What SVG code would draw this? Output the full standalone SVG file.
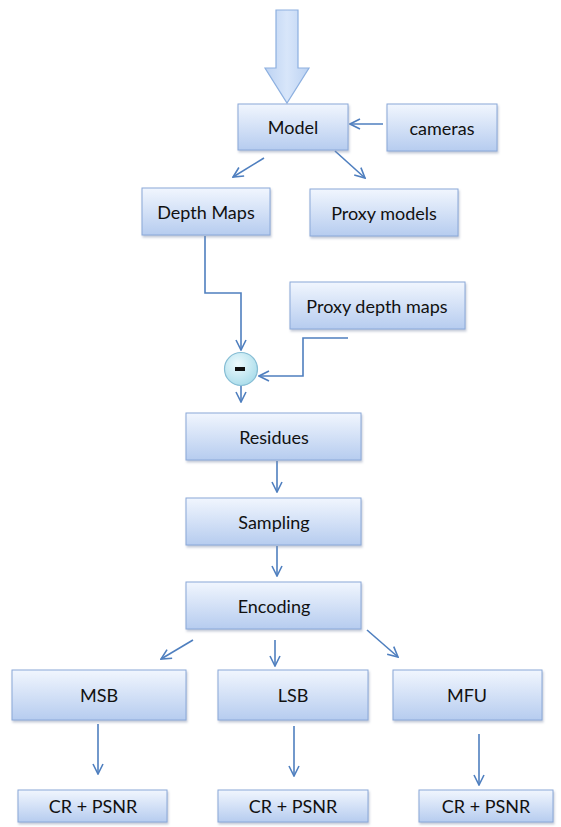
<svg xmlns="http://www.w3.org/2000/svg" width="561" height="827" viewBox="0 0 561 827">
  <defs>
    <linearGradient id="boxFill" x1="0" y1="0" x2="0" y2="1">
      <stop offset="0" stop-color="#f1f6fe"/>
      <stop offset="1" stop-color="#b6ccef"/>
    </linearGradient>
    <linearGradient id="bigArrowFill" x1="0" y1="0" x2="1" y2="0">
      <stop offset="0" stop-color="#bcd2f2"/>
      <stop offset="0.5" stop-color="#d8e6fa"/>
      <stop offset="1" stop-color="#bcd2f2"/>
    </linearGradient>
    <radialGradient id="circleFill" cx="0.4" cy="0.35" r="0.7">
      <stop offset="0" stop-color="#eefafd"/>
      <stop offset="1" stop-color="#a8dcea"/>
    </radialGradient>
    <filter id="shadow" x="-10%" y="-10%" width="125%" height="135%">
      <feDropShadow dx="1" dy="2" stdDeviation="1.2" flood-color="#7a8aa8" flood-opacity="0.45"/>
    </filter>
    <marker id="arrow" viewBox="0 0 12 12" refX="11" refY="6" markerWidth="12" markerHeight="12" markerUnits="userSpaceOnUse" orient="auto">
      <path d="M1,1 L11,6 L1,11" fill="none" stroke="#4f7fbf" stroke-width="1.6"/>
    </marker>
  </defs>
  <style>
    .box { fill: url(#boxFill); stroke: #8aa8d8; stroke-width: 1; filter: url(#shadow); }
    .label { font-family: Lato, "Open Sans", "Liberation Sans", sans-serif; font-size: 18px; fill: #111111; text-anchor: middle; dominant-baseline: central; }
    .conn { fill: none; stroke: #4f7fbf; stroke-width: 1.6; marker-end: url(#arrow); }
  </style>
  <rect width="561" height="827" fill="#ffffff"/>

  <!-- input arrow -->
  <g id="input-arrow">
    <path d="M276,10 L298,10 L298,68 L309,68 L287,103 L265,68 L276,68 Z" fill="url(#bigArrowFill)" stroke="#8db0e0" stroke-width="1.2"/>
  </g>

  <!-- connectors -->
  <g id="connectors">
    <line class="conn" x1="383" y1="124" x2="350" y2="124"/>
    <line class="conn" x1="264" y1="158" x2="233" y2="177"/>
    <line class="conn" x1="335" y1="151" x2="365" y2="178"/>
    <polyline class="conn" points="205,236 205,293 241,293 241,350"/>
    <polyline class="conn" points="348,338 303,338 303,376 259,376"/>
    <line class="conn" x1="241" y1="386" x2="241" y2="402"/>
    <line class="conn" x1="277" y1="461" x2="277" y2="492"/>
    <line class="conn" x1="277" y1="546" x2="277" y2="576"/>
    <line class="conn" x1="193" y1="640" x2="161" y2="659"/>
    <line class="conn" x1="275" y1="640" x2="275" y2="666"/>
    <line class="conn" x1="367" y1="630" x2="398" y2="657"/>
    <line class="conn" x1="98" y1="724" x2="98" y2="774"/>
    <line class="conn" x1="294" y1="726" x2="294" y2="776"/>
    <line class="conn" x1="479" y1="734" x2="479" y2="785"/>
  </g>

  <g id="model"><rect class="box" x="238" y="104" width="110" height="46"/><text class="label" x="293" y="127">Model</text></g>
  <g id="cameras"><rect class="box" x="387" y="104" width="110" height="47"/><text class="label" x="442" y="128">cameras</text></g>
  <g id="depth-maps"><rect class="box" x="142" y="188" width="128" height="47"/><text class="label" x="206" y="212">Depth Maps</text></g>
  <g id="proxy-models"><rect class="box" x="310" y="189" width="148" height="47"/><text class="label" x="384" y="213">Proxy models</text></g>
  <g id="proxy-depth-maps"><rect class="box" x="290" y="282" width="175" height="47"/><text class="label" x="377" y="306">Proxy depth maps</text></g>
  <g id="subtract">
    <circle cx="241" cy="369" r="16.5" fill="url(#circleFill)" stroke="#86bdd4" stroke-width="1.2"/>
    <rect x="235" y="367" width="10" height="4" fill="#111111"/>
  </g>
  <g id="residues"><rect class="box" x="186" y="413" width="175" height="47"/><text class="label" x="274" y="437">Residues</text></g>
  <g id="sampling"><rect class="box" x="186" y="498" width="175" height="47"/><text class="label" x="274" y="522">Sampling</text></g>
  <g id="encoding"><rect class="box" x="186" y="582" width="175" height="47"/><text class="label" x="274" y="606">Encoding</text></g>
  <g id="msb"><rect class="box" x="12" y="670" width="174" height="50"/><text class="label" x="99" y="695">MSB</text></g>
  <g id="lsb"><rect class="box" x="218" y="670" width="150" height="50"/><text class="label" x="293" y="695">LSB</text></g>
  <g id="mfu"><rect class="box" x="393" y="670" width="149" height="50"/><text class="label" x="467" y="695">MFU</text></g>
  <g id="cr-psnr-msb"><rect class="box" x="18" y="790" width="149" height="32"/><text class="label" x="93" y="806">CR + PSNR</text></g>
  <g id="cr-psnr-lsb"><rect class="box" x="218" y="790" width="150" height="32"/><text class="label" x="293" y="806">CR + PSNR</text></g>
  <g id="cr-psnr-mfu"><rect class="box" x="419" y="790" width="134" height="32"/><text class="label" x="486" y="806">CR + PSNR</text></g>
</svg>
